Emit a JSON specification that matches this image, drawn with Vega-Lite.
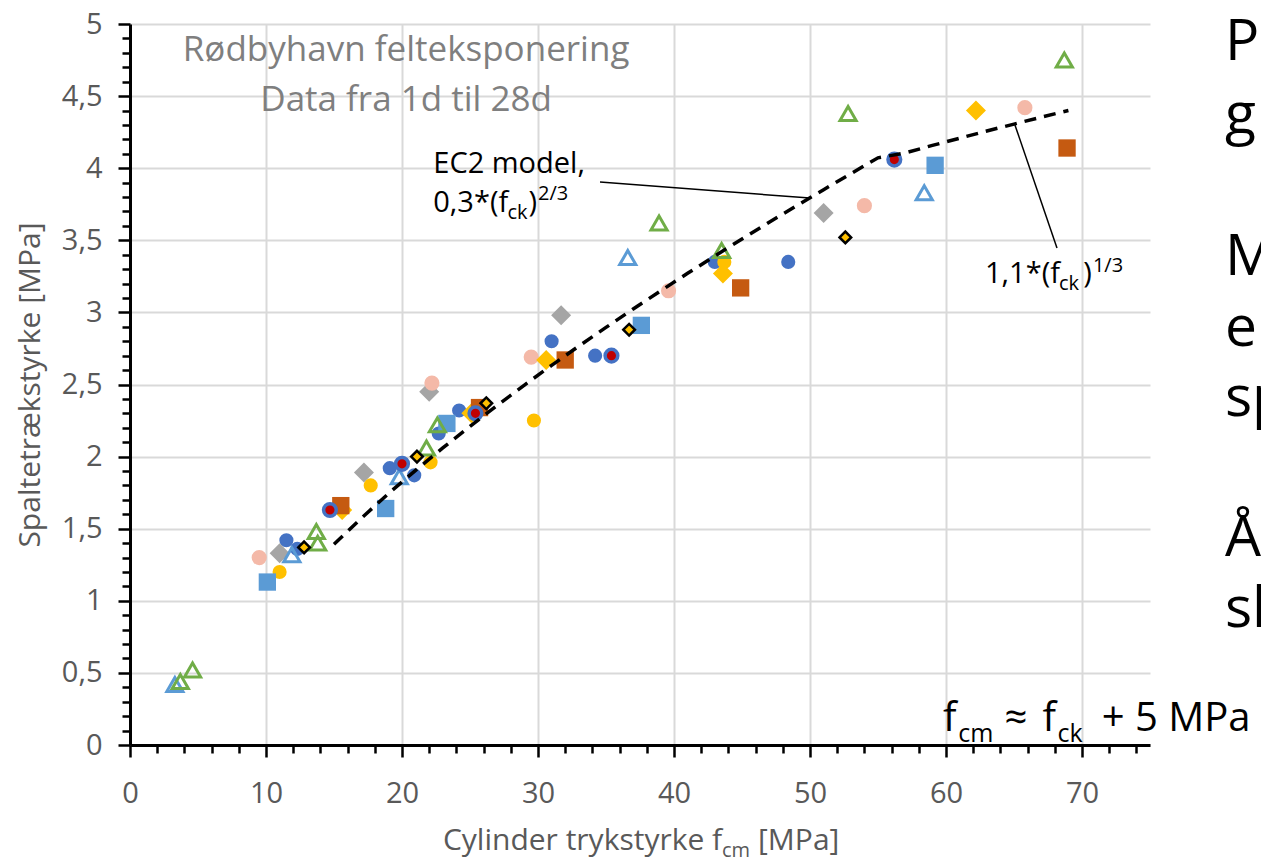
{
  "$schema": "https://vega.github.io/schema/vega-lite/v6.json",
  "width": 1020,
  "height": 721,
  "autosize": "none",
  "padding": {"left": 130, "top": 24, "right": 111, "bottom": 113},
  "background": "white",
  "config": {
    "view": {"stroke": null},
    "font": "Open Sans",
    "text": {"font": "Open Sans"}
  },
  "datasets": {
    "maalinger": [
      {"serie": "S1", "fcm": 11.5, "fsp": 1.42}, {"serie": "S1", "fcm": 12.3, "fsp": 1.36}, {"serie": "S1", "fcm": 19.1, "fsp": 1.92}, {"serie": "S1", "fcm": 20.9, "fsp": 1.87}, {"serie": "S1", "fcm": 22.7, "fsp": 2.16}, {"serie": "S1", "fcm": 24.2, "fsp": 2.32}, {"serie": "S1", "fcm": 31.0, "fsp": 2.80}, {"serie": "S1", "fcm": 34.2, "fsp": 2.70}, {"serie": "S1", "fcm": 43.0, "fsp": 3.35}, {"serie": "S1", "fcm": 48.4, "fsp": 3.35},
      {"serie": "S2", "fcm": 11.0, "fsp": 1.33}, {"serie": "S2", "fcm": 17.2, "fsp": 1.89}, {"serie": "S2", "fcm": 22.0, "fsp": 2.45}, {"serie": "S2", "fcm": 31.7, "fsp": 2.98}, {"serie": "S2", "fcm": 51.0, "fsp": 3.69},
      {"serie": "S3", "fcm": 9.5, "fsp": 1.30}, {"serie": "S3", "fcm": 22.2, "fsp": 2.51}, {"serie": "S3", "fcm": 29.5, "fsp": 2.69}, {"serie": "S3", "fcm": 39.6, "fsp": 3.15}, {"serie": "S3", "fcm": 54.0, "fsp": 3.74}, {"serie": "S3", "fcm": 65.8, "fsp": 4.42},
      {"serie": "S4", "fcm": 11.0, "fsp": 1.20}, {"serie": "S4", "fcm": 17.7, "fsp": 1.80}, {"serie": "S4", "fcm": 22.1, "fsp": 1.96}, {"serie": "S4", "fcm": 29.7, "fsp": 2.25}, {"serie": "S4", "fcm": 43.7, "fsp": 3.35},
      {"serie": "S5", "fcm": 15.6, "fsp": 1.63}, {"serie": "S5", "fcm": 25.1, "fsp": 2.30}, {"serie": "S5", "fcm": 30.6, "fsp": 2.67}, {"serie": "S5", "fcm": 43.6, "fsp": 3.27}, {"serie": "S5", "fcm": 62.2, "fsp": 4.40},
      {"serie": "S6", "fcm": 15.5, "fsp": 1.66}, {"serie": "S6", "fcm": 25.7, "fsp": 2.34}, {"serie": "S6", "fcm": 32.0, "fsp": 2.67}, {"serie": "S6", "fcm": 44.9, "fsp": 3.17}, {"serie": "S6", "fcm": 68.9, "fsp": 4.14},
      {"serie": "S7", "fcm": 10.1, "fsp": 1.13}, {"serie": "S7", "fcm": 18.8, "fsp": 1.64}, {"serie": "S7", "fcm": 23.3, "fsp": 2.23}, {"serie": "S7", "fcm": 37.6, "fsp": 2.91}, {"serie": "S7", "fcm": 59.2, "fsp": 4.02},
      {"serie": "S8", "fcm": 3.3, "fsp": 0.42}, {"serie": "S8", "fcm": 11.9, "fsp": 1.32}, {"serie": "S8", "fcm": 19.8, "fsp": 1.86}, {"serie": "S8", "fcm": 36.6, "fsp": 3.38}, {"serie": "S8", "fcm": 58.4, "fsp": 3.83},
      {"serie": "S9", "fcm": 3.7, "fsp": 0.44}, {"serie": "S9", "fcm": 4.6, "fsp": 0.52}, {"serie": "S9", "fcm": 13.7, "fsp": 1.48}, {"serie": "S9", "fcm": 13.8, "fsp": 1.40}, {"serie": "S9", "fcm": 21.8, "fsp": 2.06}, {"serie": "S9", "fcm": 22.6, "fsp": 2.22}, {"serie": "S9", "fcm": 38.9, "fsp": 3.62}, {"serie": "S9", "fcm": 43.5, "fsp": 3.43}, {"serie": "S9", "fcm": 52.8, "fsp": 4.38}, {"serie": "S9", "fcm": 68.7, "fsp": 4.75},
      {"serie": "S10", "fcm": 14.7, "fsp": 1.63}, {"serie": "S10", "fcm": 20.0, "fsp": 1.95}, {"serie": "S10", "fcm": 25.4, "fsp": 2.30}, {"serie": "S10", "fcm": 35.4, "fsp": 2.70}, {"serie": "S10", "fcm": 56.2, "fsp": 4.06},
      {"serie": "S11", "fcm": 12.8, "fsp": 1.37}, {"serie": "S11", "fcm": 21.1, "fsp": 2.00}, {"serie": "S11", "fcm": 26.2, "fsp": 2.37}, {"serie": "S11", "fcm": 36.7, "fsp": 2.88}, {"serie": "S11", "fcm": 52.6, "fsp": 3.52}
    ],
    "model": [
      {"fcm": 15, "fsp": 1.392}, {"fcm": 17, "fsp": 1.572}, {"fcm": 19, "fsp": 1.743}, {"fcm": 21, "fsp": 1.905},
      {"fcm": 23, "fsp": 2.060}, {"fcm": 25, "fsp": 2.210}, {"fcm": 27, "fsp": 2.355}, {"fcm": 29, "fsp": 2.496},
      {"fcm": 31, "fsp": 2.633}, {"fcm": 33, "fsp": 2.766}, {"fcm": 35, "fsp": 2.896}, {"fcm": 37, "fsp": 3.024},
      {"fcm": 39, "fsp": 3.148}, {"fcm": 41, "fsp": 3.271}, {"fcm": 43, "fsp": 3.391}, {"fcm": 45, "fsp": 3.509},
      {"fcm": 47, "fsp": 3.625}, {"fcm": 49, "fsp": 3.739}, {"fcm": 51, "fsp": 3.851}, {"fcm": 53, "fsp": 3.962},
      {"fcm": 55, "fsp": 4.072}, {"fcm": 57, "fsp": 4.106}, {"fcm": 59, "fsp": 4.158}, {"fcm": 61, "fsp": 4.208},
      {"fcm": 63, "fsp": 4.258}, {"fcm": 65, "fsp": 4.306}, {"fcm": 67, "fsp": 4.354}, {"fcm": 69, "fsp": 4.400}
    ],
    "pile": [
      {"x": 34.56, "y": 3.904, "x2": 49.99, "y2": 3.793},
      {"x": 65.07, "y": 4.30, "x2": 68.16, "y2": 3.447}
    ],
    "tekst": [
      {"kind": "titel", "x": 20.3, "y": 4.74, "t": "Rødbyhavn felteksponering"},
      {"kind": "titel", "x": 20.3, "y": 4.40, "t": "Data fra 1d til 28d"},
      {"kind": "note", "x": 22.3, "y": 3.97, "t": "EC2 model,"},
      {"kind": "note", "x": 22.3, "y": 3.696, "t": "0,3*(f"},
      {"kind": "note", "x": 29.3, "y": 3.696, "t": ")"},
      {"kind": "note", "x": 62.87, "y": 3.204, "t": "1,1*(f"},
      {"kind": "note", "x": 70.1, "y": 3.204, "t": ")"},
      {"kind": "note_lille", "x": 27.75, "y": 3.648, "t": "ck"},
      {"kind": "note_lille", "x": 30.0, "y": 3.78, "t": "2/3"},
      {"kind": "note_lille", "x": 68.3, "y": 3.155, "t": "ck"},
      {"kind": "note_lille", "x": 70.8, "y": 3.28, "t": "1/3"},
      {"kind": "formel", "x": 59.78, "y": 0.097, "t": "f"},
      {"kind": "formel", "x": 64.3, "y": 0.097, "t": "≈"},
      {"kind": "formel", "x": 67.1, "y": 0.097, "t": "f"},
      {"kind": "formel", "x": 71.45, "y": 0.097, "t": "+ 5 MPa"},
      {"kind": "formel_lille", "x": 60.9, "y": 0.02, "t": "cm"},
      {"kind": "formel_lille", "x": 68.2, "y": 0.02, "t": "ck"},
      {"kind": "slide", "x": 80.51, "y": 4.75, "t": "P"},
      {"kind": "slide", "x": 80.51, "y": 4.244, "t": "g"},
      {"kind": "slide", "x": 80.51, "y": 3.26, "t": "M"},
      {"kind": "slide", "x": 80.51, "y": 2.77, "t": "e"},
      {"kind": "slide", "x": 80.51, "y": 2.28, "t": "sp"},
      {"kind": "slide", "x": 80.51, "y": 1.31, "t": "Å"},
      {"kind": "slide", "x": 80.51, "y": 0.82, "t": "sl"},
      {"kind": "akse", "x": 23.01, "y": -0.728, "t": "Cylinder trykstyrke f"},
      {"kind": "akse", "x": 46.18, "y": -0.728, "t": "[MPa]"},
      {"kind": "akse_lille", "x": 43.53, "y": -0.78, "t": "cm"}
    ]
  },
  "encoding": {
    "x": {
      "field": "fcm",
      "type": "quantitative",
      "scale": {"domain": [0, 75], "nice": false, "zero": false},
      "axis": {
        "title": null,
        "values": [0, 2, 4, 6, 8, 10, 12, 14, 16, 18, 20, 22, 24, 26, 28, 30, 32, 34, 36, 38, 40, 42, 44, 46, 48, 50, 52, 54, 56, 58, 60, 62, 64, 66, 68, 70, 72, 74],
        "labelExpr": "datum.value % 10 === 0 ? datum.label : ''",
        "grid": true,
        "gridColor": "#d9d9d9",
        "gridWidth": 2,
        "gridOpacity": {"condition": {"test": "datum.value % 10 === 0", "value": 1}, "value": 0},
        "domainColor": "#000000",
        "domainWidth": 3,
        "tickColor": "#000000",
        "tickWidth": 2.5,
        "tickSize": {"condition": {"test": "datum.value % 10 === 0", "value": 12}, "value": 8},
        "labelFont": "Open Sans",
        "labelFontSize": 29,
        "labelColor": "#595959",
        "labelPadding": 22,
        "labelFlush": false,
        "labelOverlap": false
      }
    },
    "y": {
      "field": "fsp",
      "type": "quantitative",
      "scale": {"domain": [0, 5], "nice": false},
      "axis": {
        "title": "Spaltetrækstyrke [MPa]",
        "titleFont": "Open Sans",
        "titleFontSize": 30,
        "titleFontWeight": "normal",
        "titleColor": "#595959",
        "titlePadding": 16,
        "values": [0, 0.1, 0.2, 0.3, 0.4, 0.5, 0.6, 0.7, 0.8, 0.9, 1, 1.1, 1.2, 1.3, 1.4, 1.5, 1.6, 1.7, 1.8, 1.9, 2, 2.1, 2.2, 2.3, 2.4, 2.5, 2.6, 2.7, 2.8, 2.9, 3, 3.1, 3.2, 3.3, 3.4, 3.5, 3.6, 3.7, 3.8, 3.9, 4, 4.1, 4.2, 4.3, 4.4, 4.5, 4.6, 4.7, 4.8, 4.9, 5],
        "labelExpr": "abs(datum.value * 2 - round(datum.value * 2)) < 0.001 ? replace(format(datum.value, '~g'), '.', ',') : ''",
        "grid": true,
        "gridColor": "#d9d9d9",
        "gridWidth": 2,
        "gridOpacity": {"condition": {"test": "abs(datum.value * 2 - round(datum.value * 2)) < 0.001", "value": 1}, "value": 0},
        "domainColor": "#000000",
        "domainWidth": 3,
        "tickColor": "#000000",
        "tickWidth": 2.5,
        "tickSize": {"condition": {"test": "abs(datum.value * 2 - round(datum.value * 2)) < 0.001", "value": 12}, "value": 8},
        "labelFont": "Open Sans",
        "labelFontSize": 29,
        "labelColor": "#595959",
        "labelPadding": 16,
        "labelOverlap": false,
        "labelFlush": false
      }
    }
  },
  "layer": [
    {
      "data": {"name": "maalinger"},
      "transform": [{"filter": "datum.serie === 'S1'"}],
      "mark": {"type": "point", "shape": "circle", "filled": true, "opacity": 1, "color": "#4472C4", "size": 200}
    },
    {
      "data": {"name": "maalinger"},
      "transform": [{"filter": "datum.serie === 'S2'"}],
      "mark": {"type": "point", "shape": "diamond", "filled": true, "opacity": 1, "color": "#A5A5A5", "size": 400}
    },
    {
      "data": {"name": "maalinger"},
      "transform": [{"filter": "datum.serie === 'S3'"}],
      "mark": {"type": "point", "shape": "circle", "filled": true, "opacity": 1, "color": "#F4B9A8", "size": 230}
    },
    {
      "data": {"name": "maalinger"},
      "transform": [{"filter": "datum.serie === 'S4'"}],
      "mark": {"type": "point", "shape": "circle", "filled": true, "opacity": 1, "color": "#FFC000", "size": 200}
    },
    {
      "data": {"name": "maalinger"},
      "transform": [{"filter": "datum.serie === 'S5'"}],
      "mark": {"type": "point", "shape": "diamond", "filled": true, "opacity": 1, "color": "#FFC000", "size": 400}
    },
    {
      "data": {"name": "maalinger"},
      "transform": [{"filter": "datum.serie === 'S6'"}],
      "mark": {"type": "point", "shape": "square", "filled": true, "opacity": 1, "color": "#C55A11", "size": 300}
    },
    {
      "data": {"name": "maalinger"},
      "transform": [{"filter": "datum.serie === 'S7'"}],
      "mark": {"type": "point", "shape": "square", "filled": true, "opacity": 1, "color": "#5B9BD5", "size": 300}
    },
    {
      "data": {"name": "maalinger"},
      "transform": [{"filter": "datum.serie === 'S8'"}],
      "mark": {"type": "point", "shape": "triangle-up", "filled": false, "opacity": 1, "fill": null, "stroke": "#5B9BD5", "strokeWidth": 3, "size": 260}
    },
    {
      "data": {"name": "maalinger"},
      "transform": [{"filter": "datum.serie === 'S9'"}],
      "mark": {"type": "point", "shape": "triangle-up", "filled": false, "opacity": 1, "fill": null, "stroke": "#70AD47", "strokeWidth": 3, "size": 260}
    },
    {
      "data": {"name": "maalinger"},
      "transform": [{"filter": "datum.serie === 'S10'"}],
      "mark": {"type": "point", "shape": "circle", "opacity": 1, "fill": "#C00000", "stroke": "#4472C4", "strokeWidth": 3.5, "size": 160}
    },
    {
      "data": {"name": "model"},
      "mark": {"type": "line", "color": "#000000", "strokeWidth": 3.5, "strokeDash": [12, 8], "strokeCap": "butt"},
      "encoding": {}
    },
    {
      "data": {"name": "maalinger"},
      "transform": [{"filter": "datum.serie === 'S11'"}],
      "mark": {"type": "point", "shape": "diamond", "opacity": 1, "fill": "#FFC000", "stroke": "#000000", "strokeWidth": 2.5, "size": 135}
    },
    {
      "data": {"name": "pile"},
      "mark": {"type": "rule", "color": "#000000", "strokeWidth": 1.5},
      "encoding": {
        "x": {"field": "x", "type": "quantitative"},
        "y": {"field": "y", "type": "quantitative"},
        "x2": {"field": "x2"},
        "y2": {"field": "y2"}
      }
    },
    {
      "data": {"name": "tekst"},
      "transform": [{"filter": "datum.kind === 'titel'"}],
      "mark": {"type": "text", "align": "center", "baseline": "alphabetic", "fontSize": 35, "color": "#7f7f7f"},
      "encoding": {"x": {"field": "x", "type": "quantitative"}, "y": {"field": "y", "type": "quantitative"}, "text": {"field": "t"}}
    },
    {
      "data": {"name": "tekst"},
      "transform": [{"filter": "datum.kind === 'note'"}],
      "mark": {"type": "text", "align": "left", "baseline": "alphabetic", "fontSize": 29, "color": "#000000"},
      "encoding": {"x": {"field": "x", "type": "quantitative"}, "y": {"field": "y", "type": "quantitative"}, "text": {"field": "t"}}
    },
    {
      "data": {"name": "tekst"},
      "transform": [{"filter": "datum.kind === 'note_lille'"}],
      "mark": {"type": "text", "align": "left", "baseline": "alphabetic", "fontSize": 20, "color": "#000000"},
      "encoding": {"x": {"field": "x", "type": "quantitative"}, "y": {"field": "y", "type": "quantitative"}, "text": {"field": "t"}}
    },
    {
      "data": {"name": "tekst"},
      "transform": [{"filter": "datum.kind === 'formel'"}],
      "mark": {"type": "text", "align": "left", "baseline": "alphabetic", "fontSize": 40, "color": "#000000"},
      "encoding": {"x": {"field": "x", "type": "quantitative"}, "y": {"field": "y", "type": "quantitative"}, "text": {"field": "t"}}
    },
    {
      "data": {"name": "tekst"},
      "transform": [{"filter": "datum.kind === 'formel_lille'"}],
      "mark": {"type": "text", "align": "left", "baseline": "alphabetic", "fontSize": 25, "color": "#000000"},
      "encoding": {"x": {"field": "x", "type": "quantitative"}, "y": {"field": "y", "type": "quantitative"}, "text": {"field": "t"}}
    },
    {
      "data": {"name": "tekst"},
      "transform": [{"filter": "datum.kind === 'slide'"}],
      "mark": {"type": "text", "align": "left", "baseline": "alphabetic", "fontSize": 57, "color": "#000000"},
      "encoding": {"x": {"field": "x", "type": "quantitative"}, "y": {"field": "y", "type": "quantitative"}, "text": {"field": "t"}}
    },
    {
      "data": {"name": "tekst"},
      "transform": [{"filter": "datum.kind === 'akse'"}],
      "mark": {"type": "text", "align": "left", "baseline": "alphabetic", "fontSize": 30, "color": "#595959"},
      "encoding": {"x": {"field": "x", "type": "quantitative"}, "y": {"field": "y", "type": "quantitative"}, "text": {"field": "t"}}
    },
    {
      "data": {"name": "tekst"},
      "transform": [{"filter": "datum.kind === 'akse_lille'"}],
      "mark": {"type": "text", "align": "left", "baseline": "alphabetic", "fontSize": 20, "color": "#595959"},
      "encoding": {"x": {"field": "x", "type": "quantitative"}, "y": {"field": "y", "type": "quantitative"}, "text": {"field": "t"}}
    }
  ]
}
